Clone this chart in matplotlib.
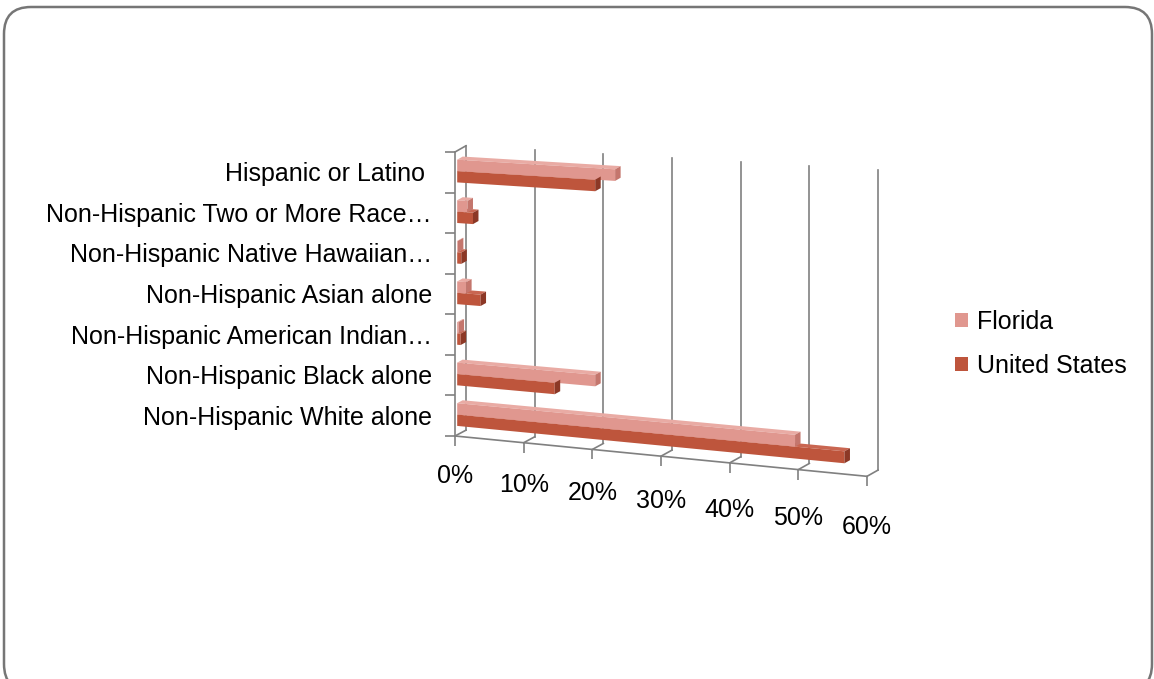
import numpy as np
import matplotlib
matplotlib.use("Agg")
import matplotlib.pyplot as plt
import matplotlib.transforms as mtransforms
from matplotlib.patches import Polygon, Patch, FancyBboxPatch
from matplotlib.markers import TICKDOWN, TICKLEFT

# datos (de abajo hacia arriba)
categorias = ["Non-Hispanic White alone", "Non-Hispanic Black alone",
              "Non-Hispanic American Indian\u2026", "Non-Hispanic Asian alone",
              "Non-Hispanic Native Hawaiian\u2026", "Non-Hispanic Two or More Race\u2026",
              "Hispanic or Latino "]
florida = [49.2, 20.1, 0.2, 1.3, 0.1, 1.5, 23.0]
estados_unidos = [56.4, 14.2, 0.5, 3.4, 0.6, 2.3, 20.1]
series = ["Florida", "United States"]
ticks_x = [0, 10, 20, 30, 40, 50, 60]
etiquetas_x = ["0%", "10%", "20%", "30%", "40%", "50%", "60%"]

# colores: frente, cara superior, cara final
col_fl = ("#E0978F", "#E9ABA4", "#C4766D")
col_us = ("#BE553C", "#C96651", "#8C3826")
gris = "#808080"

plt.rcParams['font.family'] = ['Liberation Sans', 'DejaVu Sans']
TAM = 18


class Perspectiva(mtransforms.Transform):
    # inclina el grafico hacia abajo a la derecha (mas fuerte abajo)
    input_dims = 2
    output_dims = 2

    def __init__(self, a, b):
        super().__init__()
        self.a = a
        self.b = b

    def transform_non_affine(self, xy):
        xy = np.asarray(xy, dtype=float)
        u, v = xy[:, 0], xy[:, 1]
        return np.column_stack([u, v - u * (self.a + self.b * (1 - v))])


fig = plt.figure(figsize=(11.54, 6.79), dpi=100)
ax = fig.add_axes([455 / 1154, 243 / 679, 412 / 1154, 284 / 679])
ax.set_xlim(0, 60)
ax.set_ylim(0, len(categorias))
ax.axis("off")

tr = ax.transLimits + Perspectiva(0.087, 0.055) + ax.transAxes
tr_lab = ax.transLimits + Perspectiva(0.087, 0.09) + ax.transAxes

# profundidad del "3D" en unidades de datos
Dx, Dy = 1.6, 0.17
d0, d1 = 0.2, 0.7
n = len(categorias)

# pared del fondo: lineas de cuadricula
for v in ticks_x:
    ax.plot([v + Dx, v + Dx], [Dy, n + Dy], color=gris, lw=1.2, transform=tr, clip_on=False, zorder=1)
    ax.plot([v, v + Dx], [0, Dy], color=gris, lw=1.2, transform=tr, clip_on=False, zorder=1)
# suelo y eje izquierdo
ax.plot([0, 60], [0, 0], color=gris, lw=1.2, transform=tr, clip_on=False, zorder=1)
ax.plot(ticks_x, [0] * len(ticks_x), ls="none", marker=TICKDOWN, ms=7, mew=1.2, color=gris,
        transform=tr, clip_on=False)
ax.plot([0, 0], [0, n], color=gris, lw=1.2, transform=tr, clip_on=False, zorder=1)
ax.plot([0, Dx], [n, n + Dy], color=gris, lw=1.2, transform=tr, clip_on=False, zorder=1)
ax.plot([0] * (n + 1), list(range(n + 1)), ls="none", marker=TICKLEFT, ms=7, mew=1.2, color=gris,
        transform=tr, clip_on=False)

# barras con caras
alto = 0.28
for valores, base, cols in [(estados_unidos, 0.22, col_us), (florida, 0.50, col_fl)]:
    y0 = np.arange(n) + base
    ax.barh(y0 + d0 * Dy, valores, height=alto, left=d0 * Dx, align="edge", color=cols[0],
            transform=tr, clip_on=False, zorder=3)
    for yb, w in zip(y0, valores):
        yt = yb + alto
        arriba = [(d0 * Dx, yt + d0 * Dy), (w + d0 * Dx, yt + d0 * Dy),
                  (w + d1 * Dx, yt + d1 * Dy), (d1 * Dx, yt + d1 * Dy)]
        final = [(w + d0 * Dx, yb + d0 * Dy), (w + d0 * Dx, yt + d0 * Dy),
                 (w + d1 * Dx, yt + d1 * Dy), (w + d1 * Dx, yb + d1 * Dy)]
        ax.add_patch(Polygon(arriba, closed=True, fc=cols[1], ec="none", transform=tr,
                             clip_on=False, zorder=2.5))
        ax.add_patch(Polygon(final, closed=True, fc=cols[2], ec="none", transform=tr,
                             clip_on=False, zorder=3.5))

# etiquetas de categorias
tr_cat = mtransforms.offset_copy(tr, fig=fig, x=-16.5, y=0, units="points")
for i, nombre in enumerate(categorias):
    ax.text(0, i + 0.45, nombre, transform=tr_cat, ha="right", va="center", fontsize=TAM)

# etiquetas del eje de valores
tr_x = mtransforms.offset_copy(tr_lab, fig=fig, x=0, y=-29, units="points")
for v, et in zip(ticks_x, etiquetas_x):
    ax.text(v, 0, et, transform=tr_x, ha="center", va="center", fontsize=TAM)

# leyenda
manejadores = [Patch(fc=col_fl[0], label=series[0]), Patch(fc=col_us[0], label=series[1])]
fig.legend(handles=manejadores, loc="center left", bbox_to_anchor=(955 / 1154, 1 - 344 / 679),
           frameon=False, fontsize=TAM, handlelength=0.52, handleheight=0.52,
           handletextpad=0.35, labelspacing=0.8, borderpad=0, borderaxespad=0)

# marco redondeado
marco = FancyBboxPatch((0.04, -0.12), 11.48, 6.84, boxstyle="round,pad=0,rounding_size=0.27",
                       transform=fig.dpi_scale_trans, fc="none", ec="#767676", lw=1.8)
fig.add_artist(marco)

fig.savefig("out.png", dpi=100)
